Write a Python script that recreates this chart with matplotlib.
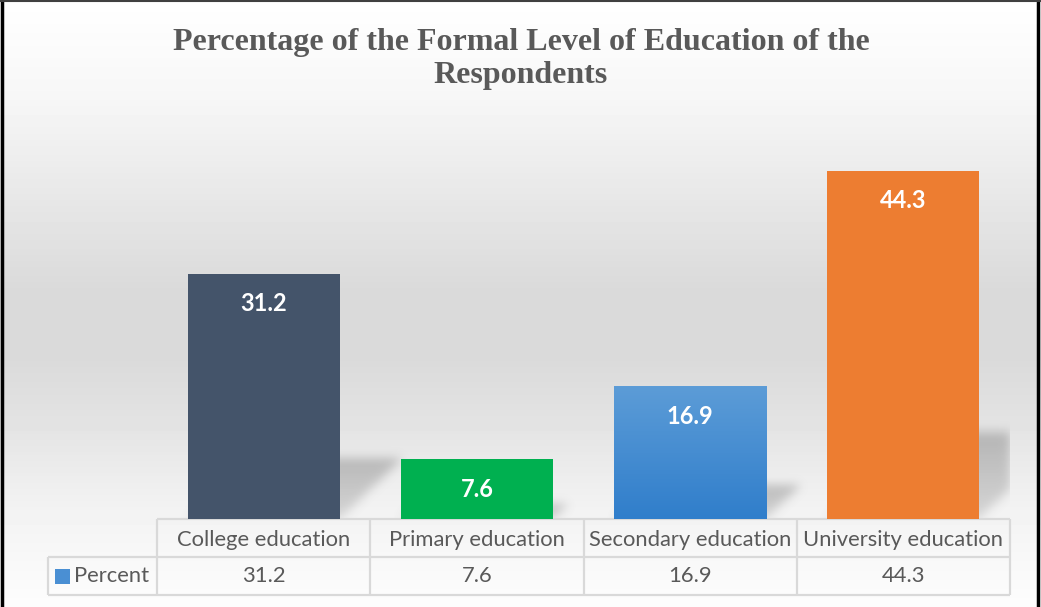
import matplotlib
matplotlib.use("Agg")
import matplotlib.pyplot as plt
from matplotlib.patches import Rectangle
from matplotlib.lines import Line2D
import numpy as np

categories = ["College education", "Primary education", "Secondary education", "University education"]
percent = [31.2, 7.6, 16.9, 44.3]
series_name = "Percent"
title = "Percentage of the Formal Level of Education of the\nRespondents"

bar_colors = ["#44546a", "#00b050", None, "#ed7d31"]
blue_top = np.array([0x5c, 0x9c, 0xd7]) / 255
blue_bot = np.array([0x30, 0x7e, 0xcb]) / 255
text_grey = "#595959"
grid_grey = "#d9d9d9"
label_font = ["Lato", "DejaVu Sans"]

W, H, DPI = 1041, 607, 100
fig = plt.figure(figsize=(W / DPI, H / DPI), dpi=DPI)

# background: vertical grey gradient over the whole chart area
bg = fig.add_axes([0, 0, 1, 1], zorder=0)
rows = np.linspace(0, H, 200)
prof_y = [0, 100, 200, 290, 360, 430, 500, 607]
prof_v = [255, 246, 231, 218, 218, 228, 241, 253]
g = np.interp(rows, prof_y, prof_v) / 255
bg.imshow(np.repeat(g[:, None], 2, axis=1), cmap="gray", vmin=0, vmax=1,
          extent=[0, 1, 0, 1], aspect="auto", origin="upper")
bg.set_xlim(0, 1)
bg.set_ylim(0, 1)
bg.axis("off")

# frame of the chart box
bg.add_line(Line2D([0.0015, 0.0015], [0, 1], color="black", lw=2.5))
bg.add_line(Line2D([0.9975, 0.9975], [0, 1], color="black", lw=2.5))
bg.add_line(Line2D([0, 1], [0.998, 0.998], color="#404040", lw=1.5))

ax = fig.add_axes([157 / W, 88 / H, 853 / W, 393 / H], zorder=1)
ax.set_facecolor("none")
x = np.arange(len(categories))
bw = 152 / 213
xmin, xmax = -0.5, len(categories) - 0.5

# perspective shadows behind the bars, blurred
gx = np.linspace(xmin, xmax, 854)
gy = np.linspace(0, 16, 126)
XX, YY = np.meshgrid(gx, gy)
mask = np.zeros_like(XX)
for xi, v in zip(x, percent):
    x0, x1 = xi - bw / 2, xi + bw / 2
    hs = v * 0.25
    sk = v * 0.0095
    t = YY / hs
    inside = (YY <= hs) & (XX >= x0 + sk * t) & (XX <= x1 + sk * t)
    mask = np.maximum(mask, inside * (0.55 + 0.45 * np.clip(t, 0, 1)))


def blur(a, sigma):
    r = int(3 * sigma)
    k = np.exp(-0.5 * (np.arange(-r, r + 1) / sigma) ** 2)
    k /= k.sum()
    a = np.apply_along_axis(lambda m: np.convolve(m, k, mode="same"), 1, a)
    a = np.apply_along_axis(lambda m: np.convolve(m, k, mode="same"), 0, a)
    return a


mask = blur(mask, 5)
shadow = np.zeros(mask.shape + (4,))
shadow[..., :3] = 0.45
shadow[..., 3] = mask * 0.42
ax.imshow(shadow, extent=[xmin, xmax, 0, 16], origin="lower", aspect="auto",
          zorder=1, interpolation="bilinear")

bars = ax.bar(x, percent, width=bw, color=[c if c else "none" for c in bar_colors],
              zorder=3)

# gradient fill for the secondary education bar
sec = bars[2]
grad = np.linspace(0, 1, 100)[:, None, None] * (blue_top - blue_bot) + blue_bot
grad = np.repeat(grad, 2, axis=1)
im = ax.imshow(grad, extent=[x[2] - bw / 2, x[2] + bw / 2, 0, percent[2]],
               aspect="auto", origin="lower", zorder=3)
im.set_clip_path(sec)

for xi, v in zip(x, percent):
    ax.text(xi, v - 3.8, f"{v}", ha="center", va="center", color="white",
            fontsize=17, fontweight="bold", family=label_font, zorder=4)

ax.set_xlim(xmin, xmax)
ax.set_ylim(0, 50)
ax.axis("off")

# data table under the plot
row_h = 38 / (393 / 50)
leg_w = 109 / 213
lc = dict(color=grid_grey, lw=1.6, clip_on=False, zorder=2, solid_capstyle="butt")
for yy in [0, -row_h, -2 * row_h]:
    ax.plot([xmin, xmax], [yy, yy], **lc)
ax.plot([xmin - leg_w, xmin], [-row_h, -row_h], **lc)
ax.plot([xmin - leg_w, xmin], [-2 * row_h, -2 * row_h], **lc)
for xb in np.arange(len(categories) + 1) - 0.5:
    ax.plot([xb, xb], [0, -2 * row_h], **lc)
ax.plot([xmin - leg_w, xmin - leg_w], [-row_h, -2 * row_h], **lc)

for xi, cat, v in zip(x, categories, percent):
    ax.text(xi, -row_h / 2 - 0.25, cat, ha="center", va="center", color=text_grey,
            fontsize=15.8, family=label_font, clip_on=False)
    ax.text(xi, -1.5 * row_h, f"{v}", ha="center", va="center", color=text_grey,
            fontsize=15.8, family=label_font, clip_on=False)

# legend key in table
kx0 = xmin - leg_w + 7 / 213
kw = 15 / 213
kh = 15 / (393 / 50)
key = Rectangle((kx0, -1.5 * row_h - kh / 2), kw, kh, facecolor="#4a8fd3",
                edgecolor="none", clip_on=False, zorder=3)
ax.add_patch(key)
ax.text(kx0 + kw + 4 / 213, -1.5 * row_h, series_name, ha="left", va="center",
        color=text_grey, fontsize=15.8, family=label_font, clip_on=False)

fig.text(521 / W, 1 - 59 / H, title, ha="center", va="center", color=text_grey,
         fontsize=23, fontweight="bold", family=["Liberation Serif", "DejaVu Serif"],
         linespacing=1.18)

fig.savefig("out.png", dpi=DPI)
